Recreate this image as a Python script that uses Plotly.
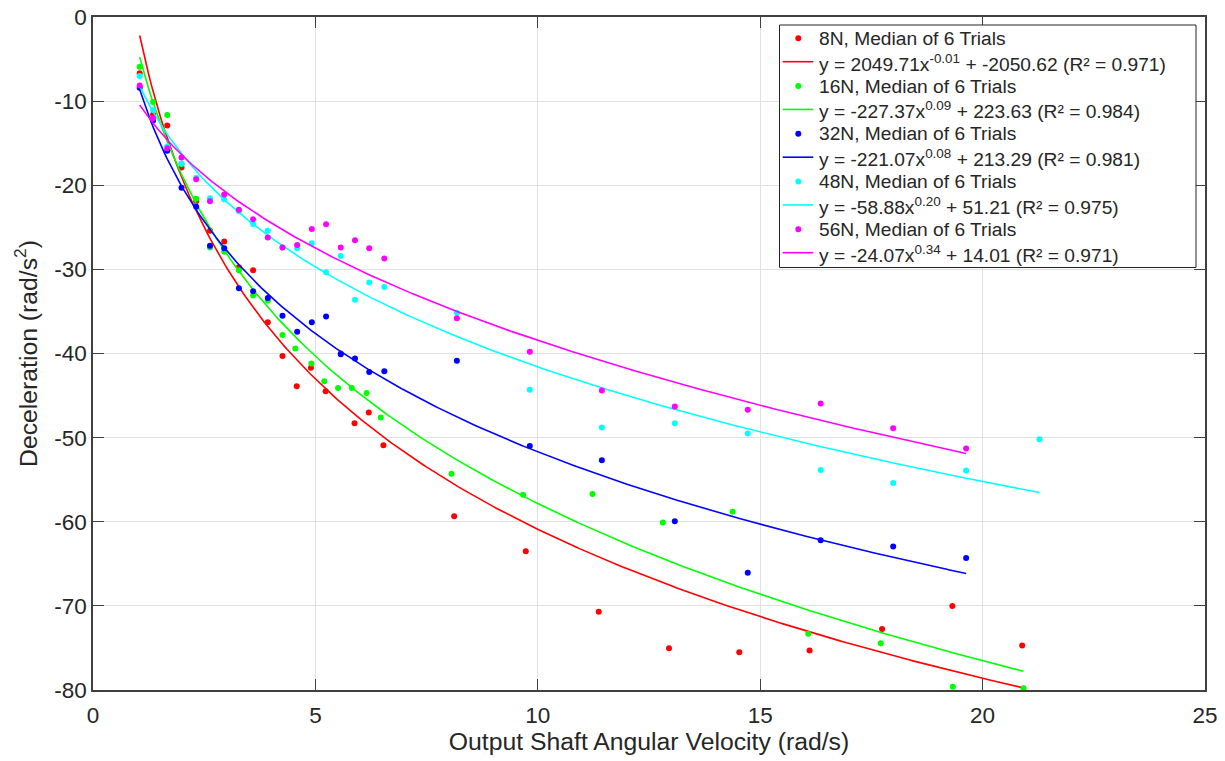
import numpy as np
import plotly.graph_objects as go

# ---------------- data ----------------
x_8N = [1.05, 1.35, 1.67, 1.99, 2.32, 2.63, 2.95, 3.28, 3.60, 3.93, 4.26, 4.58, 4.90, 5.23,
        5.57, 5.88, 6.20, 6.53, 8.12, 9.73, 11.37, 12.95, 14.53, 16.11, 17.74, 19.32, 20.89]
y_8N = [-6.7, -11.6, -12.9, -17.9, -21.9, -25.4, -26.7, -29.75, -30.1, -36.3, -40.3, -43.9, -41.7, -44.5,
        -40.0, -48.3, -47.0, -50.9, -59.35, -63.5, -70.7, -75.05, -75.5, -75.3, -72.75, -70.0, -74.7]

x_16N = [1.05, 1.35, 1.67, 1.99, 2.32, 2.63, 2.95, 3.28, 3.60, 3.93, 4.26, 4.55, 4.91, 5.20,
         5.51, 5.82, 6.15, 6.47, 8.06, 9.67, 11.23, 12.81, 14.38, 16.08, 17.71, 19.33, 20.92]
y_16N = [-5.9, -10.1, -11.65, -17.5, -21.6, -27.4, -27.9, -30.1, -33.1, -33.7, -37.8, -39.4, -41.2, -43.3,
         -44.1, -44.1, -44.7, -47.6, -54.3, -56.8, -56.7, -60.1, -58.8, -73.3, -74.45, -79.6, -79.8]

x_32N = [1.05, 1.35, 1.67, 1.99, 2.32, 2.63, 2.95, 3.28, 3.60, 3.93, 4.26, 4.59, 4.92, 5.24,
         5.57, 5.89, 6.21, 6.55, 8.18, 9.82, 11.44, 13.08, 14.72, 16.36, 17.99, 19.63]
y_32N = [-8.4, -12.3, -15.9, -20.3, -22.55, -27.2, -27.5, -32.25, -32.6, -33.4, -35.5, -37.4, -36.3, -35.6,
         -40.1, -40.6, -42.2, -42.1, -40.85, -51.0, -52.7, -59.95, -66.05, -62.2, -62.95, -64.3]

x_48N = [1.05, 1.35, 1.67, 1.99, 2.32, 2.63, 2.95, 3.28, 3.60, 3.93, 4.26, 4.59, 4.92, 5.24,
         5.57, 5.89, 6.21, 6.55, 8.18, 9.82, 11.44, 13.08, 14.72, 16.36, 17.99, 19.63, 21.28]
y_48N = [-7.0, -11.05, -15.4, -17.4, -19.1, -21.55, -21.7, -23.1, -24.6, -25.4, -27.4, -27.5, -26.9, -30.35,
         -28.4, -33.6, -31.55, -32.1, -35.15, -44.3, -48.8, -48.3, -49.5, -53.85, -55.4, -53.9, -50.2]

x_56N = [1.05, 1.35, 1.67, 1.99, 2.32, 2.63, 2.95, 3.28, 3.60, 3.93, 4.26, 4.59, 4.92, 5.24,
         5.57, 5.89, 6.21, 6.55, 8.18, 9.82, 11.44, 13.08, 14.72, 16.36, 17.99, 19.63]
y_56N = [-8.15, -12.05, -15.6, -16.7, -19.3, -21.9, -21.1, -22.9, -24.05, -26.2, -27.4, -27.1, -25.2, -24.65,
         -27.4, -26.55, -27.5, -28.7, -35.8, -39.8, -44.4, -46.3, -46.7, -45.95, -48.9, -51.3]

# power-law fit parameters y = a*x^b + c (as estimated from the drawn curves)
fit_a = [2049.71, -227.37, -221.07, -58.88, -24.07]
fit_b = [-0.0129, 0.0927, 0.0787, 0.1976, 0.3383]
fit_c = [-2050.62, 223.63, 213.29, 51.21, 14.01]

series_names = ["8N, Median of 6 Trials", "16N, Median of 6 Trials", "32N, Median of 6 Trials",
                "48N, Median of 6 Trials", "56N, Median of 6 Trials"]
fit_names = ["y = 2049.71x<sup>-0.01</sup> + -2050.62 (R² = 0.971)",
             "y = -227.37x<sup>0.09</sup> + 223.63 (R² = 0.984)",
             "y = -221.07x<sup>0.08</sup> + 213.29 (R² = 0.981)",
             "y = -58.88x<sup>0.20</sup> + 51.21 (R² = 0.975)",
             "y = -24.07x<sup>0.34</sup> + 14.01 (R² = 0.971)"]
colors = ["#ff0000", "#00ff00", "#0000ff", "#00ffff", "#ff00ff"]

x_tickvals = [0, 5, 10, 15, 20, 25]
x_ticktext = ["0", "5", "10", "15", "20", "25"]
y_tickvals = [0, -10, -20, -30, -40, -50, -60, -70, -80]
y_ticktext = ["0", "-10", "-20", "-30", "-40", "-50", "-60", "-70", "-80"]

xs = [x_8N, x_16N, x_32N, x_48N, x_56N]
ys = [y_8N, y_16N, y_32N, y_48N, y_56N]

# ---------------- figure ----------------
FONT = "Liberation Sans, Arial, Helvetica, sans-serif"
TXT = "#262626"
W, H = 1225, 761
ML, MR, MT, MB = 93, 20, 17, 71
PW, PH = W - ML - MR, H - MT - MB


def px_x(px):
    return (px - ML) / PW


def px_y(py):
    return 1 - (py - MT) / PH


fig = go.Figure()
for i in range(5):
    fig.add_trace(go.Scatter(
        x=xs[i], y=ys[i], mode="markers", name=series_names[i],
        marker=dict(color=colors[i], size=6, line=dict(width=0)),
    ))
    xf = np.linspace(min(xs[i]), max(xs[i]), 300)
    yf = fit_a[i] * xf ** fit_b[i] + fit_c[i]
    fig.add_trace(go.Scatter(
        x=xf, y=yf, mode="lines", name=fit_names[i],
        line=dict(color=colors[i], width=1.6),
    ))

axis_common = dict(
    showline=True, linecolor="#404040", linewidth=1.5, mirror="ticks",
    ticks="inside", ticklen=11, tickwidth=1, tickcolor="#404040",
    showgrid=True, gridcolor="#e1e1e1", gridwidth=1, zeroline=False,
    tickfont=dict(family=FONT, size=22.5, color=TXT),
)

fig.update_xaxes(
    range=[0, 25], tickvals=x_tickvals, ticktext=x_ticktext, ticklabelstandoff=4,
    title=dict(text="Output Shaft Angular Velocity (rad/s)",
               font=dict(family=FONT, size=24.75, color=TXT), standoff=6),
    **axis_common,
)
fig.update_yaxes(
    range=[-80, 0], tickvals=y_tickvals, ticktext=y_ticktext,
    title=dict(text="Deceleration (rad/s<sup>2</sup>)",
               font=dict(family=FONT, size=24.75, color=TXT), standoff=10),
    **axis_common,
)

# ---------------- hand-drawn legend box (matches MATLAB layout) ----------------
LEG_L, LEG_T, LEG_R, LEG_B = 779.5, 25, 1196, 267.5
shapes = [dict(type="rect", xref="paper", yref="paper",
               x0=px_x(LEG_L), x1=px_x(LEG_R), y0=px_y(LEG_B), y1=px_y(LEG_T),
               fillcolor="white", line=dict(color="#262626", width=1), layer="above")]
annotations = []
PITCH = 47.75
for i in range(5):
    ym = 38.3 + PITCH * i        # marker row
    yl = 61.7 + PITCH * i        # fit-line row
    # marker symbol
    shapes.append(dict(type="circle", xref="paper", yref="paper",
                       x0=px_x(798.3 - 3), x1=px_x(798.3 + 3),
                       y0=px_y(ym + 3), y1=px_y(ym - 3),
                       fillcolor=colors[i], line=dict(width=0), layer="above"))
    # line symbol
    shapes.append(dict(type="line", xref="paper", yref="paper",
                       x0=px_x(782.7), x1=px_x(813.3), y0=px_y(yl), y1=px_y(yl),
                       line=dict(color=colors[i], width=1.6), layer="above"))
    annotations.append(dict(xref="paper", yref="paper", x=px_x(816.5), y=px_y(ym),
                            xanchor="left", yanchor="middle", showarrow=False,
                            text=series_names[i],
                            font=dict(family=FONT, size=19.2, color=TXT)))
    annotations.append(dict(xref="paper", yref="paper", x=px_x(816.5), y=px_y(yl + 1.0),
                            xanchor="left", yanchor="middle", showarrow=False,
                            text=fit_names[i],
                            font=dict(family=FONT, size=19.2, color=TXT)))

fig.update_layout(
    width=W, height=H,
    margin=dict(l=ML, r=MR, t=MT, b=MB, autoexpand=False),
    paper_bgcolor="white", plot_bgcolor="white",
    font=dict(family=FONT, color=TXT),
    showlegend=False,
    shapes=shapes,
    annotations=annotations,
)

fig.write_html("out.html")
